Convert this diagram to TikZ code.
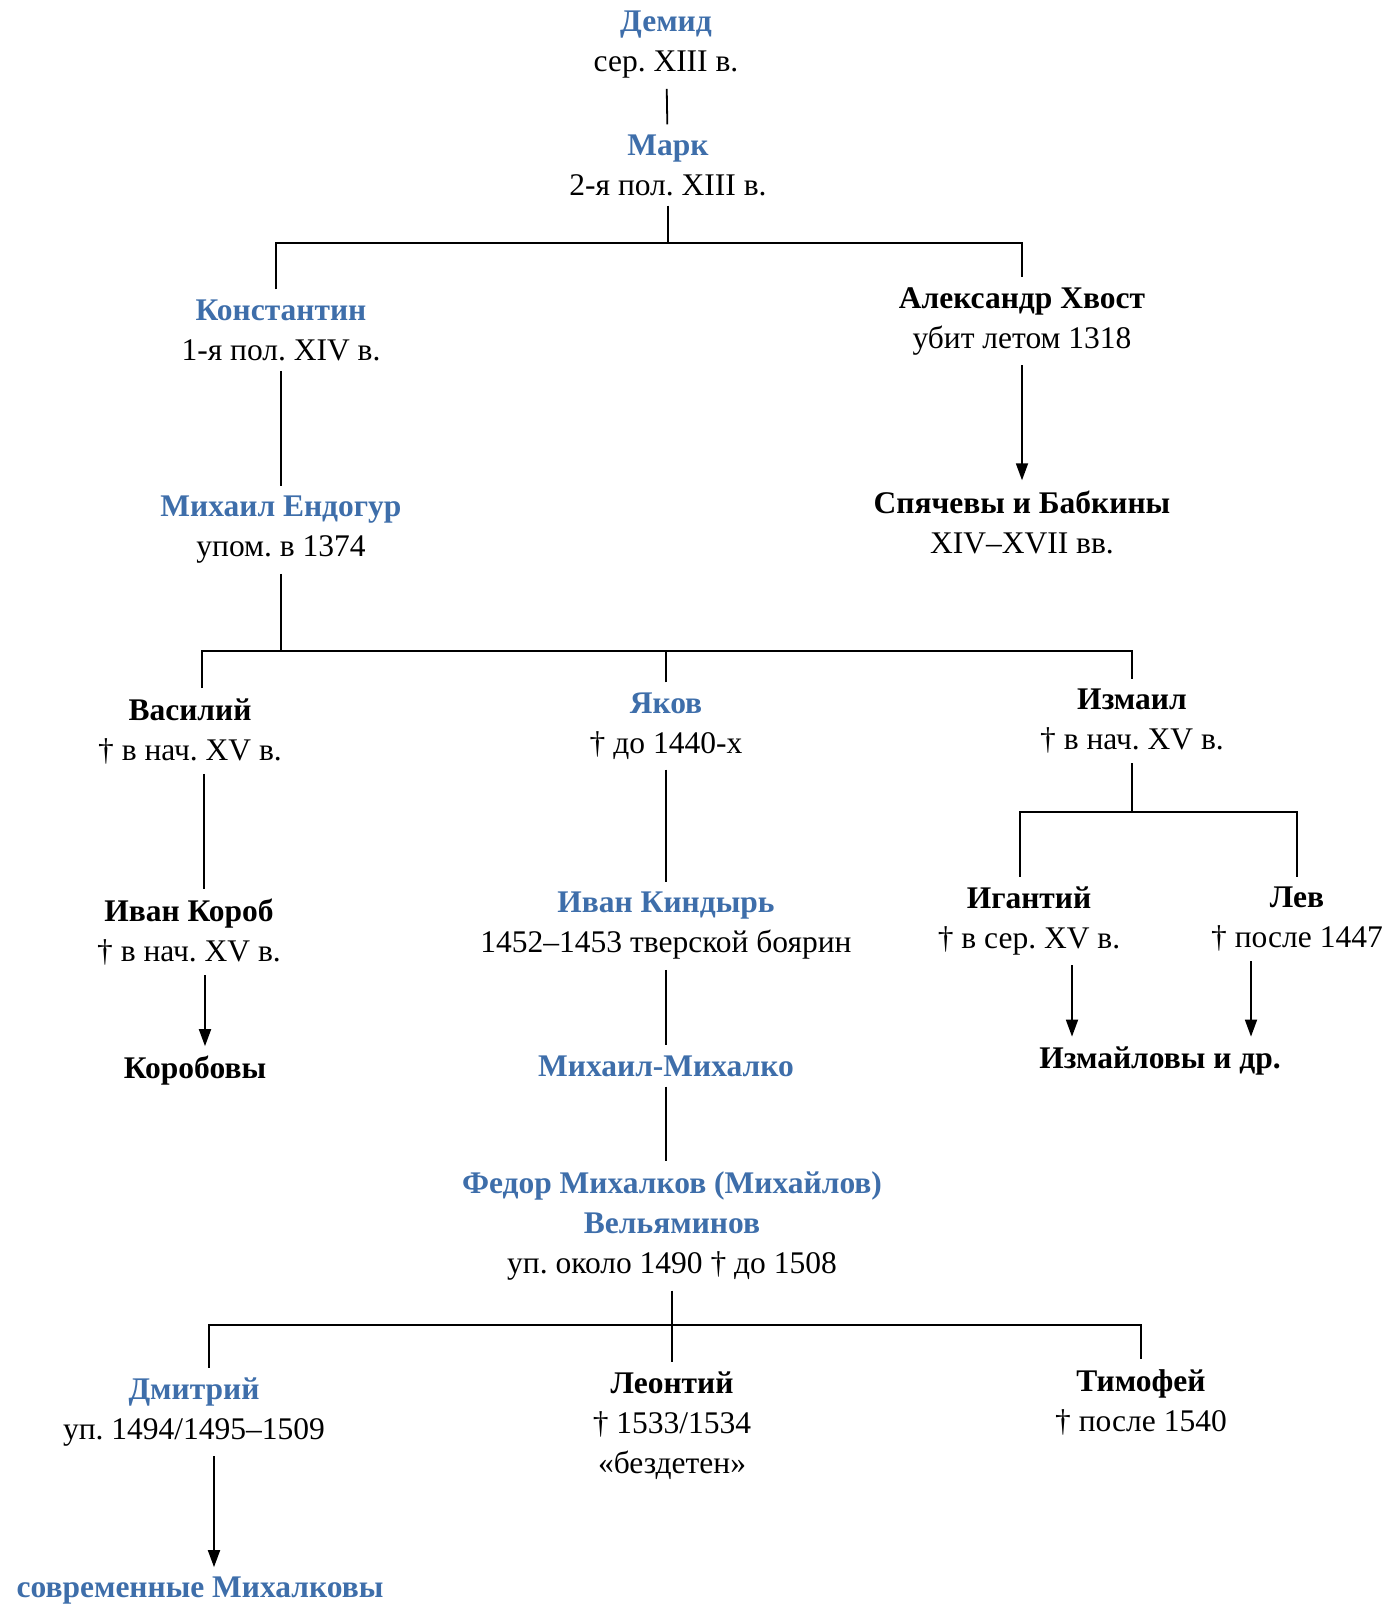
\documentclass[tikz,border=0pt]{standalone}
\usepackage{fontspec}
\setmainfont{Liberation Serif}
\usetikzlibrary{arrows.meta}
\definecolor{nameblue}{RGB}{62,110,170}
\newcommand{\bname}[1]{\textcolor{nameblue}{\textbf{#1}}}
\newcommand{\kname}[1]{\textbf{#1}}
\frenchspacing

\begin{document}
\begin{tikzpicture}[x=1pt, y=-1pt,
    person/.style={align=center, inner sep=10pt, font=\fontsize{31.5}{40}\selectfont},
    link/.style={line width=1.8pt},
    arr/.style={line width=1.8pt, -{Triangle[length=17pt,width=12pt]}}]
    \useasboundingbox (0,0) rectangle (1395,1610);

    \node[person] (demid) at (666,45) {\bname{Демид}\\сер. XIII в.};
    \node[person] (mark) at (668,165) {\bname{Марк}\\2-я пол. XIII в.};
    \node[person] (konst) at (281,330) {\bname{Константин}\\1-я пол. XIV в.};
    \node[person] (aleks) at (1022,321) {\kname{Александр Хвост}\\убит летом 1318};
    \node[person] (spyach) at (1022,522) {\kname{Спячевы и Бабкины}\\XIV--XVII вв.};
    \node[person] (endogur) at (281,530) {\bname{Михаил Ендогур}\\упом. в 1374};
    \node[person] (vasily) at (190,731) {\kname{Василий}\\† в нач. XV в.};
    \node[person] (yakov) at (666,726) {\bname{Яков}\\† до 1440-х};
    \node[person] (izmail) at (1132,721) {\kname{Измаил}\\† в нач. XV в.};
    \node[person] (korob) at (189,932) {\kname{Иван Короб}\\† в нач. XV в.};
    \node[person] (korobovy) at (195,1071) {\kname{Коробовы}};
    \node[person] (kindyr) at (666,926) {\bname{Иван Киндырь}\\1452--1453 тверской боярин};
    \node[person] (mikhalko) at (666,1066) {\bname{Михаил-Михалко}};
    \node[person] (fedor) at (672,1226) {\bname{Федор Михалков (Михайлов)}\\\bname{Вельяминов}\\уп. около 1490 † до 1508};
    \node[person] (ignatiy) at (1029,921) {\kname{Игантий}\\† в сер. XV в.};
    \node[person] (lev) at (1297,919) {\kname{Лев}\\† после 1447};
    \node[person] (izmaylovy) at (1160,1061) {\kname{Измайловы и др.}};
    \node[person] (dmitry) at (194,1412) {\bname{Дмитрий}\\уп. 1494/1495--1509};
    \node[person] (leontiy) at (672,1426) {\kname{Леонтий}\\† 1533/1534\\«бездетен»};
    \node[person] (timofey) at (1141,1402) {\kname{Тимофей}\\† после 1540};
    \node[person] (modern) at (200,1591) {\bname{современные Михалковы}};

    \coordinate (fork1) at (668,243);
    \coordinate (fork2) at (281,651);
    \coordinate (fork3) at (1132,812);
    \coordinate (fork4) at (672,1325);

    \draw[link] (demid) -- (mark);
    \draw[link] (mark) -- (fork1);
    \draw[link] ([xshift=-5pt]konst.north) |- (fork1) -| (aleks);
    \draw[arr] (aleks) -- (spyach);
    \draw[link] (konst) -- (endogur);
    \draw[link] (endogur) -- (fork2);
    \draw[link] ([xshift=12pt]vasily.north) |- (fork2) -| (izmail);
    \draw[link] (yakov) -- (yakov |- fork2);
    \draw[link] ([xshift=14pt]vasily.south) -- ([xshift=15pt]korob.north);
    \draw[arr] ([xshift=16pt]korob.south) -- ([xshift=10pt]korobovy.north);
    \draw[link] (yakov) -- (kindyr);
    \draw[link] (kindyr) -- (mikhalko);
    \draw[link] (mikhalko) -- (mikhalko |- fedor.north);
    \draw[link] (izmail) -- (fork3);
    \draw[link] ([xshift=-9pt]ignatiy.north) |- (fork3) -| (lev);
    \draw[arr] ([xshift=43pt]ignatiy.south) coordinate (igfoot) -- (igfoot |- izmaylovy.north);
    \draw[arr] ([xshift=-46pt]lev.south) coordinate (levfoot) -- (levfoot |- izmaylovy.north);
    \draw[link] (fedor) -- (leontiy);
    \draw[link] ([xshift=15pt]dmitry.north) |- (fork4) -| (timofey);
    \draw[arr] ([xshift=20pt]dmitry.south) -- ([xshift=14pt]modern.north);
\end{tikzpicture}
\end{document}
